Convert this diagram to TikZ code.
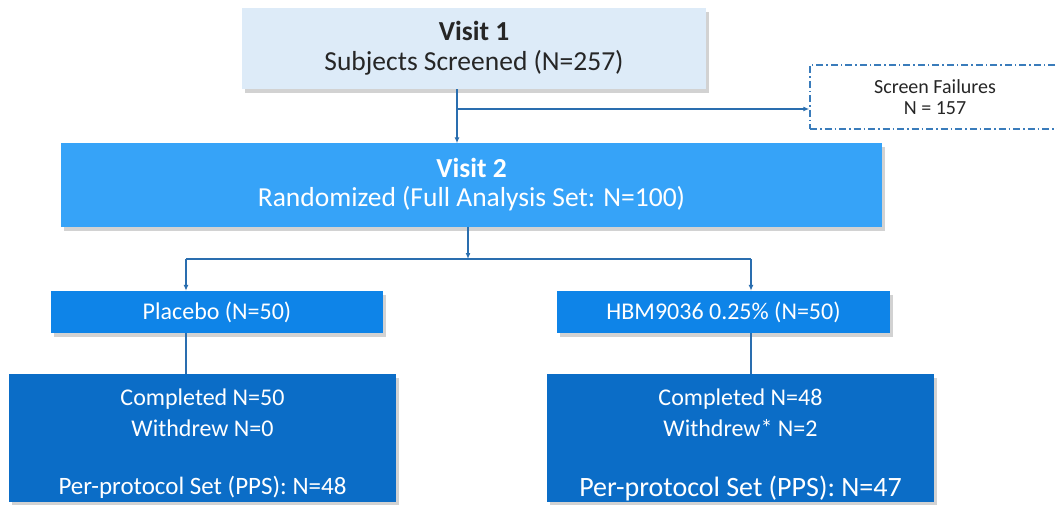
\documentclass[tikz,border=0pt]{standalone}
\usepackage{fontspec}
\setmainfont{Carlito}
\usetikzlibrary{arrows.meta,shadows}
\definecolor{vonefill}{HTML}{DDEBF8}
\definecolor{vtwofill}{HTML}{36A3F8}
\definecolor{armfill}{HTML}{0E84E8}
\definecolor{compfill}{HTML}{0B6DC7}
\definecolor{linec}{HTML}{2A6EAF}
\definecolor{darktext}{HTML}{262626}
\definecolor{dashc}{HTML}{3A7CBB}
\tikzset{
  boxbase/.style={rectangle, inner sep=0pt, align=center,
    drop shadow={opacity=0.35, shadow xshift=3pt, shadow yshift=-4pt}},
  vonebox/.style={boxbase, fill=vonefill, text=darktext, font=\fontsize{27.5}{30}\selectfont},
  vtwobox/.style={boxbase, fill=vtwofill, text=white, font=\fontsize{27.5}{29}\selectfont},
  armbox/.style={boxbase, fill=armfill, text=white, font=\fontsize{24}{24}\selectfont},
  compbox/.style={boxbase, fill=compfill},
  comptext/.style={text=white, inner sep=0pt, anchor=base, font=\fontsize{24}{30}\selectfont},
  failbox/.style={rectangle, draw=dashc, line width=1.5pt,
    dash pattern=on 7pt off 3pt on 1.5pt off 3pt, inner sep=0pt, align=center,
    fill=white, text=darktext, font=\fontsize{20}{21}\selectfont},
  conn/.style={draw=linec, line width=1.6pt},
  arr/.style={conn, -{Latex[length=6pt,width=5pt]}},
}
\begin{document}
\begin{tikzpicture}[x=1pt,y=-1pt]
\useasboundingbox[fill=white] (0,0) rectangle (1057,505);
% nodes
\node[vonebox, minimum width=464pt, minimum height=81pt] (v1) at (474,48.5)
  {\textbf{Visit 1}\\Subjects Screened (N=257)};
\node[failbox, minimum width=250pt, minimum height=64pt] (sf) at (935,97)
  {Screen Failures\\N = 157};
\node[vtwobox, minimum width=821pt, minimum height=83pt] (v2) at (471.5,185)
  {\textbf{Visit 2}\\Randomized (Full Analysis Set: N=100)};
\node[armbox, minimum width=332pt, minimum height=42pt] (pl) at (217,312)
  {Placebo (N=50)};
\node[armbox, minimum width=333pt, minimum height=42pt] (hb) at (723.5,312)
  {HBM9036 0.25\% (N=50)};
\node[compbox, minimum width=387pt, minimum height=128pt] (c1) at (202.5,438) {};
\node[compbox, minimum width=387pt, minimum height=128pt] (c2) at (740.5,438) {};
\node[comptext] (t1a) at (202.5,405) {Completed N=50};
\node[comptext] (t1b) at (202.5,436) {Withdrew N=0};
\node[comptext, font=\fontsize{25}{30}\selectfont] (t1c) at (202.5,494) {Per-protocol Set (PPS): N=48};
\node[comptext] (t2a) at (740.5,405) {Completed N=48};
\node[comptext] (t2b) at (740.5,436) {Withdrew* N=2};
\node[comptext, font=\fontsize{28}{30}\selectfont] (t2c) at (740.5,496) {Per-protocol Set (PPS): N=47};
% helper coordinates
\coordinate (j1) at (457,109);
\coordinate (j2) at (468,259);
\coordinate (bl) at (186,259);
\coordinate (br) at (751,259);
% connectors
\draw[arr] (v1.south -| j1) -- (v2.north -| j1);
\draw[arr] (j1) -- (sf.west |- j1);
\draw[arr] (v2.south -| j2) -- (j2);
\draw[conn] (bl) -- (br);
\draw[arr] (bl) -- (pl.north -| bl);
\draw[arr] (br) -- (hb.north -| br);
\draw[conn] (pl.south -| bl) -- (c1.north -| bl);
\draw[conn] (hb.south -| br) -- (c2.north -| br);
\end{tikzpicture}
\end{document}
